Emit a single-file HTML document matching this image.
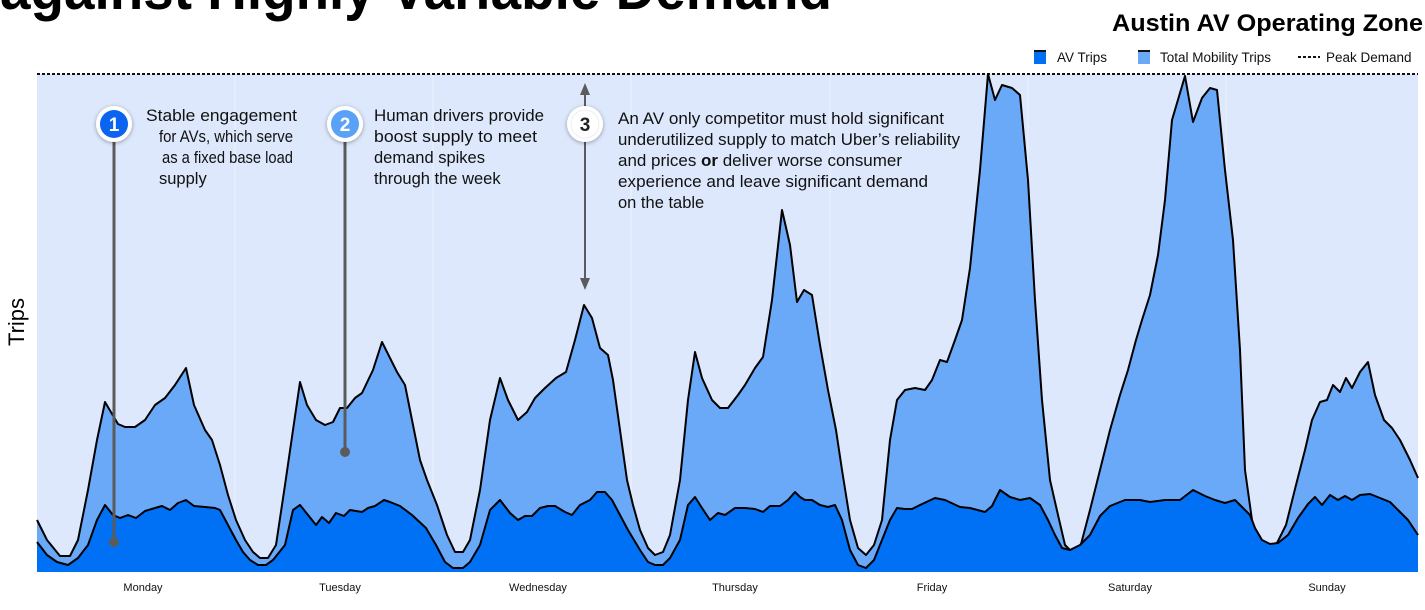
<!DOCTYPE html>
<html><head><meta charset="utf-8"><style>
html,body{margin:0;padding:0;background:#fff;}
svg{display:block;font-family:"Liberation Sans",sans-serif;}
</style></head><body>
<svg width="1425" height="610" viewBox="0 0 1425 610" xmlns="http://www.w3.org/2000/svg">
<defs>
<filter id="sh" x="-50%" y="-50%" width="200%" height="200%"><feDropShadow dx="0" dy="1" stdDeviation="2" flood-color="#000" flood-opacity="0.35"/></filter>
</defs>
<text x="0" y="9" font-size="58" font-weight="bold" fill="#000" textLength="832" lengthAdjust="spacingAndGlyphs">against Highly Variable Demand</text>
<text x="1423" y="31" font-size="24" font-weight="bold" text-anchor="end" fill="#000" textLength="311" lengthAdjust="spacingAndGlyphs">Austin AV Operating Zone</text>
<rect x="1034" y="50" width="12" height="14" fill="#0070f5"/><rect x="1034" y="50" width="12" height="2" fill="#111"/>
<text x="1057" y="62" font-size="13.5" fill="#111">AV Trips</text>
<rect x="1138" y="50" width="12" height="14" fill="#6aa8f8"/><rect x="1138" y="50" width="12" height="2" fill="#111"/>
<text x="1160" y="62" font-size="13.5" fill="#111">Total Mobility Trips</text>
<line x1="1298" y1="57" x2="1320" y2="57" stroke="#111" stroke-width="2" stroke-dasharray="3,2"/>
<text x="1326" y="62" font-size="13.5" fill="#111">Peak Demand</text>

<rect x="37" y="74" width="1381" height="498" fill="#dde8fc"/>
<g stroke="#eef3ff" stroke-width="1">
<line x1="235" y1="74" x2="235" y2="572"/><line x1="433" y1="74" x2="433" y2="572"/><line x1="631" y1="74" x2="631" y2="572"/><line x1="830" y1="74" x2="830" y2="572"/><line x1="1028" y1="74" x2="1028" y2="572"/><line x1="1226" y1="74" x2="1226" y2="572"/>
</g>
<line x1="37" y1="74" x2="1418" y2="74" stroke="#111" stroke-width="2" stroke-dasharray="3,2"/>

<polygon fill="#6aa8f8" points="37,572 37,520 47,540 60,556 70,556 78,540 88,490 97,440 105,402 118,424 125,427 135,427 145,420 155,405 165,398 175,385 186,368 194,405 205,430 212,440 220,465 228,495 236,520 245,540 253,552 260,558 268,558 276,545 285,485 293,430 300,382 307,405 316,420 325,425 333,422 340,408 347,408 355,398 362,393 373,370 382,342 390,358 397,372 405,385 412,420 420,460 427,480 437,505 447,535 455,552 463,552 470,540 480,490 490,420 500,378 508,400 518,420 527,412 535,398 545,388 556,378 566,372 575,340 584,305 592,318 600,348 608,355 613,380 620,430 627,480 633,505 640,530 648,548 655,555 663,552 670,535 680,480 688,400 695,352 702,378 712,400 720,408 728,408 738,395 745,385 755,368 763,357 772,300 782,210 790,245 797,302 804,290 812,295 820,345 828,390 836,430 842,470 850,520 858,548 866,555 874,545 882,520 890,440 897,400 905,390 915,388 925,390 932,380 940,360 947,362 955,340 962,320 970,268 980,170 988,74 995,100 1002,85 1012,88 1020,95 1028,180 1035,300 1042,400 1050,480 1058,515 1065,545 1072,552 1080,548 1090,510 1100,470 1110,430 1120,395 1128,370 1136,340 1142,320 1150,295 1158,255 1165,200 1172,120 1185,76 1193,122 1202,98 1210,88 1217,90 1225,170 1233,240 1240,350 1245,470 1252,520 1260,545 1268,550 1276,545 1286,525 1296,485 1305,450 1312,420 1320,402 1327,400 1333,385 1340,392 1346,378 1352,388 1360,372 1368,362 1375,395 1384,420 1392,428 1400,440 1410,460 1418,478 1418,572" stroke="none"/>
<polyline fill="none" stroke="#000" stroke-width="2" stroke-linejoin="round" points="37,520 47,540 60,556 70,556 78,540 88,490 97,440 105,402 118,424 125,427 135,427 145,420 155,405 165,398 175,385 186,368 194,405 205,430 212,440 220,465 228,495 236,520 245,540 253,552 260,558 268,558 276,545 285,485 293,430 300,382 307,405 316,420 325,425 333,422 340,408 347,408 355,398 362,393 373,370 382,342 390,358 397,372 405,385 412,420 420,460 427,480 437,505 447,535 455,552 463,552 470,540 480,490 490,420 500,378 508,400 518,420 527,412 535,398 545,388 556,378 566,372 575,340 584,305 592,318 600,348 608,355 613,380 620,430 627,480 633,505 640,530 648,548 655,555 663,552 670,535 680,480 688,400 695,352 702,378 712,400 720,408 728,408 738,395 745,385 755,368 763,357 772,300 782,210 790,245 797,302 804,290 812,295 820,345 828,390 836,430 842,470 850,520 858,548 866,555 874,545 882,520 890,440 897,400 905,390 915,388 925,390 932,380 940,360 947,362 955,340 962,320 970,268 980,170 988,74 995,100 1002,85 1012,88 1020,95 1028,180 1035,300 1042,400 1050,480 1058,515 1065,545 1072,552 1080,548 1090,510 1100,470 1110,430 1120,395 1128,370 1136,340 1142,320 1150,295 1158,255 1165,200 1172,120 1185,76 1193,122 1202,98 1210,88 1217,90 1225,170 1233,240 1240,350 1245,470 1252,520 1260,545 1268,550 1276,545 1286,525 1296,485 1305,450 1312,420 1320,402 1327,400 1333,385 1340,392 1346,378 1352,388 1360,372 1368,362 1375,395 1384,420 1392,428 1400,440 1410,460 1418,478"/>

<polygon fill="#0070f5" points="37,572 37,542 47,555 57,562 68,565 78,558 88,545 97,520 105,505 113,515 120,518 128,515 136,518 145,511 155,508 162,506 170,510 178,503 186,500 194,506 205,507 215,508 220,510 228,525 236,540 243,552 250,560 258,565 266,565 273,560 285,545 293,510 300,505 308,515 316,525 322,517 329,523 336,513 344,516 350,510 362,512 368,508 375,506 384,500 390,502 400,506 412,515 426,528 436,545 445,562 453,568 463,568 470,562 480,545 490,510 500,500 510,513 518,520 525,516 532,516 540,508 548,506 555,506 565,512 572,515 580,505 590,500 597,492 605,492 612,500 620,515 628,530 640,550 648,562 655,565 663,565 670,558 680,540 688,505 695,497 702,508 710,520 718,513 725,515 735,508 745,508 755,509 763,512 770,506 780,506 788,500 795,492 800,497 805,500 812,500 820,505 828,507 835,505 842,520 850,550 858,565 866,568 874,560 882,540 890,520 897,508 905,509 912,509 920,505 935,498 945,500 960,507 970,508 985,512 992,506 1000,490 1010,497 1020,500 1030,498 1040,505 1048,520 1055,535 1062,548 1070,550 1080,545 1090,535 1100,516 1110,506 1125,500 1140,500 1150,502 1165,500 1180,500 1193,490 1205,496 1215,500 1225,503 1235,500 1242,507 1250,515 1255,528 1262,540 1270,544 1278,543 1288,535 1298,518 1308,504 1315,497 1322,505 1330,495 1338,500 1345,496 1352,500 1360,495 1370,494 1380,498 1390,502 1398,510 1408,520 1418,535 1418,572"/>
<polyline fill="none" stroke="#000" stroke-width="2" stroke-linejoin="round" points="37,542 47,555 57,562 68,565 78,558 88,545 97,520 105,505 113,515 120,518 128,515 136,518 145,511 155,508 162,506 170,510 178,503 186,500 194,506 205,507 215,508 220,510 228,525 236,540 243,552 250,560 258,565 266,565 273,560 285,545 293,510 300,505 308,515 316,525 322,517 329,523 336,513 344,516 350,510 362,512 368,508 375,506 384,500 390,502 400,506 412,515 426,528 436,545 445,562 453,568 463,568 470,562 480,545 490,510 500,500 510,513 518,520 525,516 532,516 540,508 548,506 555,506 565,512 572,515 580,505 590,500 597,492 605,492 612,500 620,515 628,530 640,550 648,562 655,565 663,565 670,558 680,540 688,505 695,497 702,508 710,520 718,513 725,515 735,508 745,508 755,509 763,512 770,506 780,506 788,500 795,492 800,497 805,500 812,500 820,505 828,507 835,505 842,520 850,550 858,565 866,568 874,560 882,540 890,520 897,508 905,509 912,509 920,505 935,498 945,500 960,507 970,508 985,512 992,506 1000,490 1010,497 1020,500 1030,498 1040,505 1048,520 1055,535 1062,548 1070,550 1080,545 1090,535 1100,516 1110,506 1125,500 1140,500 1150,502 1165,500 1180,500 1193,490 1205,496 1215,500 1225,503 1235,500 1242,507 1250,515 1255,528 1262,540 1270,544 1278,543 1288,535 1298,518 1308,504 1315,497 1322,505 1330,495 1338,500 1345,496 1352,500 1360,495 1370,494 1380,498 1390,502 1398,510 1408,520 1418,535"/>

<line x1="114" y1="124" x2="114" y2="542" stroke="#5b5b5b" stroke-width="3"/>
<circle cx="114" cy="542" r="5" fill="#5b5b5b"/>
<line x1="345" y1="124" x2="345" y2="452" stroke="#5b5b5b" stroke-width="3"/>
<circle cx="345" cy="452" r="5" fill="#5b5b5b"/>
<line x1="585" y1="92" x2="585" y2="280" stroke="#5b5b5b" stroke-width="2"/>
<polygon points="585,83 580,95 590,95" fill="#5b5b5b"/>
<polygon points="585,290 580,278 590,278" fill="#5b5b5b"/>

<g filter="url(#sh)">
<circle cx="114" cy="124" r="18" fill="#fff"/>
<circle cx="345" cy="124" r="18" fill="#fff"/>
<circle cx="585" cy="124" r="18" fill="#fff"/>
</g>
<circle cx="114" cy="124" r="14" fill="#0a64f0"/>
<circle cx="345" cy="124" r="14" fill="#5aa2f6"/>
<circle cx="585" cy="124" r="14" fill="#fff" stroke="#eee"/>
<text x="114" y="131" font-size="19" font-weight="bold" fill="#fff" text-anchor="middle">1</text>
<text x="345" y="131" font-size="19" font-weight="bold" fill="#fff" text-anchor="middle">2</text>
<text x="585" y="131" font-size="19" font-weight="bold" fill="#222" text-anchor="middle">3</text>

<g font-size="16.5" fill="#111">
<text x="146" y="121" textLength="151" lengthAdjust="spacingAndGlyphs">Stable engagement</text>
<text x="159" y="142" textLength="134" lengthAdjust="spacingAndGlyphs">for AVs, which serve</text>
<text x="162" y="163" textLength="131" lengthAdjust="spacingAndGlyphs">as a fixed base load</text>
<text x="159" y="184">supply</text>
<text x="374" y="121" textLength="170" lengthAdjust="spacingAndGlyphs">Human drivers provide</text>
<text x="374" y="142" textLength="163" lengthAdjust="spacingAndGlyphs">boost supply to meet</text>
<text x="374" y="163">demand spikes</text>
<text x="374" y="184">through the week</text>
<text x="618" y="124" textLength="326" lengthAdjust="spacingAndGlyphs">An AV only competitor must hold significant</text>
<text x="618" y="145" textLength="342" lengthAdjust="spacingAndGlyphs">underutilized supply to match Uber’s reliability</text>
<text x="618" y="166" textLength="284" lengthAdjust="spacingAndGlyphs">and prices <tspan font-weight="bold">or</tspan> deliver worse consumer</text>
<text x="618" y="187" textLength="310" lengthAdjust="spacingAndGlyphs">experience and leave significant demand</text>
<text x="618" y="208">on the table</text>
</g>

<text transform="translate(24,322) rotate(-90)" font-size="22" fill="#000" text-anchor="middle">Trips</text>
<g font-size="11" fill="#111" text-anchor="middle">
<text x="143" y="591">Monday</text><text x="340" y="591">Tuesday</text><text x="538" y="591">Wednesday</text><text x="735" y="591">Thursday</text><text x="932" y="591">Friday</text><text x="1130" y="591">Saturday</text><text x="1327" y="591">Sunday</text>
</g>
</svg>
</body></html>
